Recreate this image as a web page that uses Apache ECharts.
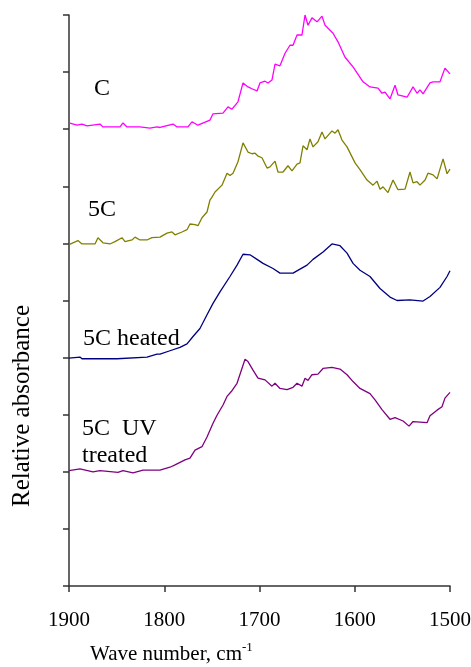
<!DOCTYPE html>
<html>
<head>
<meta charset="utf-8">
<script src="https://cdn.jsdelivr.net/npm/echarts@6/dist/echarts.min.js"></script>
<style>
html,body{margin:0;padding:0;background:#fff;}
#chart{width:471px;height:667px;}
</style>
</head>
<body>
<div id="chart"></div>
<script>
// Wave number axis ticks (cm-1), shown reversed: 1900 -> 1500
var xTicks = [1900, 1800, 1700, 1600, 1500];

// Series names / labels
var seriesNames = ['C', '5C', '5C heated', '5C UV treated'];

// [wave number, relative absorbance (offset stacked)]
var cData = [
  [1900,8.11],[1891.6,8.07],[1886.4,8.09],[1881.1,8.06],[1867.5,8.09],[1864.3,8.04],[1846.5,8.04],
  [1843.3,8.11],[1839.1,8.04],[1825.5,8.04],[1815,8.02],[1807.6,8.04],[1804.5,8.03],[1790.8,8.09],
  [1786.6,8.04],[1775.1,8.04],[1770.9,8.13],[1764.6,8.07],[1752,8.16],[1748.8,8.27],[1738.3,8.28],
  [1733.1,8.39],[1728.9,8.35],[1722.6,8.48],[1717.3,8.81],[1712.1,8.74],[1706.8,8.70],[1702.6,8.67],
  [1699.5,8.81],[1694.2,8.84],[1691.1,8.81],[1686.9,8.86],[1683.7,9.14],[1678.5,9.11],[1673.2,9.33],
  [1668,9.47],[1664.8,9.47],[1660.6,9.65],[1655.4,9.65],[1652.2,10.0],[1649.1,9.82],[1644.9,9.95],
  [1639.6,9.88],[1634.4,9.98],[1631.2,9.82],[1622.8,9.68],[1617.6,9.53],[1610.2,9.26],[1601.8,9.09],
  [1591.3,8.83],[1584,8.74],[1575.6,8.72],[1571.4,8.63],[1568.2,8.65],[1563,8.53],[1557.7,8.77],
  [1554.6,8.60],[1545.1,8.56],[1538.8,8.74],[1534.6,8.63],[1531.5,8.69],[1528.3,8.62],[1521,8.81],
  [1517.8,8.83],[1510.5,8.83],[1505.3,9.07],[1500,8.97]
];
var c5Data = [
  [1900,5.98],[1890.6,6.05],[1886.4,5.99],[1872.7,5.99],[1869.6,6.10],[1864.3,6.01],[1857,5.99],
  [1851.7,6.03],[1844.4,6.10],[1841.2,6.03],[1833.9,6.06],[1830.7,6.11],[1825.5,6.06],[1818.1,6.06],
  [1812.9,6.10],[1804.5,6.11],[1797.1,6.18],[1791.9,6.20],[1788.7,6.15],[1781.4,6.20],[1776.1,6.24],
  [1773,6.34],[1767.7,6.33],[1764.6,6.31],[1760.4,6.45],[1755.1,6.55],[1752,6.76],[1749.9,6.81],
  [1746.7,6.90],[1739.4,7.02],[1734.1,7.23],[1731,7.19],[1727.8,7.23],[1722.6,7.43],[1717.3,7.76],
  [1712.1,7.60],[1707.9,7.57],[1704.7,7.58],[1701.6,7.53],[1697.4,7.50],[1692.1,7.32],[1689,7.34],
  [1683.7,7.44],[1680.6,7.25],[1675.3,7.25],[1670.1,7.36],[1665.9,7.27],[1660.6,7.39],[1657.5,7.41],
  [1654.3,7.71],[1650.1,7.64],[1647,7.83],[1643.8,7.69],[1638.6,7.78],[1634.4,7.95],[1631.2,7.83],
  [1623.9,7.97],[1620.7,7.93],[1617.6,7.99],[1613.4,7.81],[1608.1,7.69],[1599.7,7.41],[1594.5,7.29],
  [1587.1,7.11],[1580.8,7.02],[1576.6,7.09],[1573.5,6.95],[1570.3,6.99],[1565.1,6.89],[1559.8,7.11],
  [1554.6,6.94],[1547.2,6.95],[1542,7.25],[1538.8,7.06],[1534.6,7.08],[1531.5,7.02],[1526.2,7.11],
  [1523.1,7.23],[1517.8,7.20],[1513.6,7.13],[1507.3,7.48],[1503.1,7.22],[1500,7.30]
];
var heatedData = [
  [1900,3.99],[1888.5,4.01],[1886.4,3.98],[1849.6,3.98],[1818.1,4.01],[1807.6,4.06],[1804.5,4.06],
  [1794,4.12],[1783.5,4.18],[1776.1,4.24],[1769.8,4.37],[1762.5,4.51],[1755.1,4.75],[1748.8,4.95],
  [1741.5,5.15],[1731,5.42],[1723.6,5.62],[1717.3,5.81],[1710,5.80],[1702.6,5.72],[1696.3,5.65],
  [1685.8,5.56],[1678.5,5.48],[1664.8,5.48],[1657.5,5.55],[1650.1,5.62],[1643.8,5.72],[1633.3,5.85],
  [1623.9,5.99],[1615.5,5.96],[1608.1,5.83],[1601.8,5.65],[1594.5,5.53],[1584,5.42],[1573.5,5.21],
  [1563,5.06],[1555.6,5.00],[1542,5.01],[1528.3,4.99],[1521,5.07],[1510.5,5.23],[1503.1,5.42],
  [1500,5.52]
];
var uvData = [
  [1900,2.02],[1888.5,2.05],[1874.8,2.00],[1867.5,2.02],[1848.6,1.99],[1843.3,2.02],[1832.8,1.98],
  [1822.3,2.03],[1807.6,2.03],[1804.5,2.03],[1794,2.08],[1788.7,2.12],[1778.2,2.21],[1773,2.24],
  [1767.7,2.38],[1760.4,2.44],[1755.1,2.61],[1748.8,2.85],[1744.6,2.99],[1738.3,3.17],[1734.1,3.32],
  [1728.9,3.42],[1723.6,3.55],[1715.2,3.97],[1712.1,3.93],[1706.8,3.78],[1701.6,3.64],[1694.2,3.61],
  [1686.9,3.50],[1683.7,3.55],[1678.5,3.46],[1671.1,3.44],[1664.8,3.48],[1660.6,3.55],[1655.4,3.50],
  [1652.2,3.64],[1649.1,3.60],[1644.9,3.70],[1638.6,3.71],[1633.3,3.81],[1623.9,3.83],[1615.5,3.80],
  [1608.1,3.70],[1601.8,3.58],[1594.5,3.46],[1584,3.37],[1578.7,3.26],[1571.4,3.09],[1563,2.92],
  [1557.7,2.95],[1549.3,2.89],[1543,2.80],[1538.8,2.88],[1524.1,2.86],[1521,2.98],[1513.6,3.08],
  [1508.4,3.14],[1505.3,3.29],[1500,3.39]
];

var colors = ['#ff00ff', '#808000', '#000080', '#800080'];
var font = 'Liberation Serif';

var chart = echarts.init(document.getElementById('chart'), null, {renderer: 'canvas'});
var datasets = [cData, c5Data, heatedData, uvData];

chart.setOption({
  animation: false,
  backgroundColor: '#ffffff',
  grid: {left: 69, right: 21, top: 15, bottom: 81, containLabel: false, outerBoundsMode: 'none'},
  xAxis: {
    type: 'value',
    inverse: true,
    min: xTicks[xTicks.length - 1],
    max: xTicks[0],
    interval: 100,
    axisLine: {onZero: false, lineStyle: {color: '#333', width: 1.5}},
    axisTick: {show: true, inside: false, length: 6, lineStyle: {color: '#333', width: 1.5}},
    axisLabel: {color: '#000', fontFamily: font, fontSize: 21, margin: 24, hideOverlap: false,
      showMinLabel: true, showMaxLabel: true,
      formatter: function (v) { return String(v); }},
    splitLine: {show: false}
  },
  yAxis: {
    type: 'value',
    min: 0, max: 10, interval: 1,
    axisLine: {show: true, lineStyle: {color: '#333', width: 1.5}},
    axisTick: {show: true, inside: false, length: 6, lineStyle: {color: '#333', width: 1.5}},
    axisLabel: {show: false},
    splitLine: {show: false}
  },
  series: datasets.map(function (d, i) {
    return {
      name: seriesNames[i],
      type: 'line',
      data: d,
      showSymbol: false,
      symbol: 'none',
      lineStyle: {color: colors[i], width: 1.3},
      z: 3
    };
  }),
  graphic: [
    {type: 'text', left: 94, top: 77, style: {text: 'C', font: '24px "' + font + '"', fill: '#000', textVerticalAlign: 'middle'}},
    {type: 'text', left: 88, top: 198, style: {text: '5C', font: '24px "' + font + '"', fill: '#000', textVerticalAlign: 'middle'}},
    {type: 'text', left: 83, top: 327, style: {text: '5C heated', font: '24px "' + font + '"', fill: '#000', textVerticalAlign: 'middle'}},
    {type: 'text', left: 82, top: 417, style: {text: '5C  UV', font: '24px "' + font + '"', fill: '#000', textVerticalAlign: 'middle'}},
    {type: 'text', left: 82, top: 444, style: {text: 'treated', font: '24px "' + font + '"', fill: '#000', textVerticalAlign: 'middle'}},
    {type: 'text', x: 22, y: 406, rotation: Math.PI / 2,
      style: {text: 'Relative absorbance', font: '25px "' + font + '"', fill: '#000', textAlign: 'center', textVerticalAlign: 'middle'}},
    {type: 'text', x: 90, y: 654,
      style: {
        text: '{a|Wave number, cm}{s|-1}',
        textVerticalAlign: 'middle',
        rich: {
          a: {fontFamily: font, fontSize: 21, fill: '#000', color: '#000'},
          s: {fontFamily: font, fontSize: 13, color: '#000', verticalAlign: 'top', padding: [0, 0, 12, 0]}
        }
      }}
  ]
});
</script>
</body>
</html>
